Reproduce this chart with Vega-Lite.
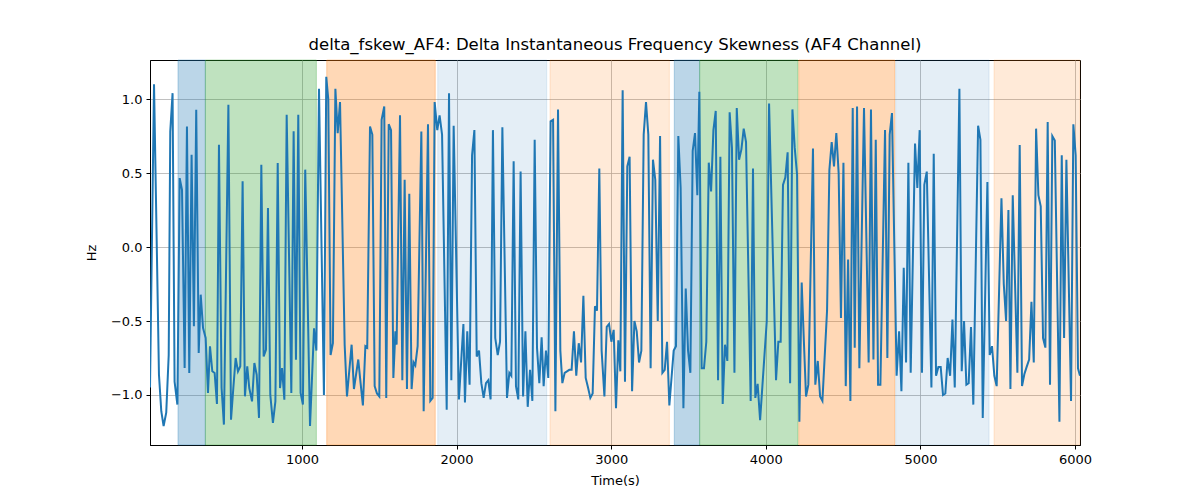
{
  "$schema": "https://vega.github.io/schema/vega-lite/v6.json",
  "autosize": {"type": "none"},
  "width": 930,
  "height": 385,
  "padding": {"left": 150, "top": 60, "right": 120, "bottom": 55},
  "title": {"text": "delta_fskew_AF4: Delta Instantaneous Frequency Skewness (AF4 Channel)", "font": "DejaVu Sans", "fontSize": 16.5, "fontWeight": "normal", "color": "black", "offset": 6},
  "config": {
    "view": {"stroke": "black", "strokeWidth": 1},
    "axis": {"labelFont": "DejaVu Sans", "titleFont": "DejaVu Sans", "labelFontSize": 13, "titleFontSize": 13, "titleFontWeight": "normal", "labelColor": "black", "titleColor": "black", "domainColor": "black", "tickColor": "black", "tickSize": 4, "labelPadding": 4, "gridColor": "#b0b0b0", "gridWidth": 0.8, "grid": true}
  },
  "datasets": {
    "bands": [
      {"start": 198, "end": 375, "kind": "A"},
      {"start": 375, "end": 1093, "kind": "B"},
      {"start": 1160, "end": 1862, "kind": "C"},
      {"start": 1878, "end": 2583, "kind": "D"},
      {"start": 2604, "end": 3376, "kind": "E"},
      {"start": 3408, "end": 3572, "kind": "A"},
      {"start": 3572, "end": 4208, "kind": "B"},
      {"start": 4213, "end": 4834, "kind": "C"},
      {"start": 4840, "end": 5444, "kind": "D"},
      {"start": 5476, "end": 6032, "kind": "E"}
    ],
    "series": [
      {"t": 17, "v": -0.95}, {"t": 43, "v": 1.10}, {"t": 75, "v": -0.863}, {"t": 90, "v": -1.11}, {"t": 105, "v": -1.21}, {"t": 122, "v": -1.12}, {"t": 138, "v": -0.73}, {"t": 148, "v": 0.78}, {"t": 163, "v": 1.04}, {"t": 176, "v": -0.91}, {"t": 194, "v": -1.065}, {"t": 209, "v": 0.466}, {"t": 224, "v": 0.387}, {"t": 241, "v": -0.818}, {"t": 256, "v": 0.815}, {"t": 271, "v": -0.851}, {"t": 286, "v": 0.624}, {"t": 301, "v": -0.536}, {"t": 316, "v": 0.928}, {"t": 332, "v": -0.716}, {"t": 345, "v": -0.322}, {"t": 360, "v": -0.547}, {"t": 377, "v": -0.615}, {"t": 392, "v": -0.986}, {"t": 405, "v": -0.671}, {"t": 420, "v": -0.84}, {"t": 435, "v": -0.851}, {"t": 450, "v": -1.061}, {"t": 463, "v": 0.691}, {"t": 480, "v": -0.953}, {"t": 495, "v": -1.2}, {"t": 524, "v": 0.962},
      {"t": 541, "v": -1.167}, {"t": 556, "v": -0.953}, {"t": 571, "v": -0.75}, {"t": 586, "v": -0.84}, {"t": 601, "v": -0.806}, {"t": 616, "v": 0.444}, {"t": 631, "v": -1.009}, {"t": 646, "v": -0.806}, {"t": 659, "v": -0.953}, {"t": 677, "v": -1.043}, {"t": 692, "v": -0.784}, {"t": 707, "v": -0.863}, {"t": 722, "v": -1.155}, {"t": 737, "v": 0.556}, {"t": 752, "v": -0.739}, {"t": 767, "v": -0.694}, {"t": 780, "v": 0.264}, {"t": 795, "v": -0.998}, {"t": 812, "v": -1.189}, {"t": 828, "v": -1.043}, {"t": 843, "v": 0.568}, {"t": 858, "v": -0.953}, {"t": 871, "v": -0.818}, {"t": 886, "v": -1.032}, {"t": 901, "v": 0.894}, {"t": 931, "v": -0.986}, {"t": 946, "v": 0.782}, {"t": 961, "v": -0.761}, {"t": 976, "v": 0.894}, {"t": 991, "v": -0.986}, {"t": 1006, "v": -1.065}, {"t": 1021, "v": 0.523},
      {"t": 1052, "v": -1.21}, {"t": 1078, "v": -0.55}, {"t": 1093, "v": -0.70}, {"t": 1110, "v": 1.07}, {"t": 1142, "v": -1.0}, {"t": 1157, "v": 1.15}, {"t": 1170, "v": 1.0}, {"t": 1185, "v": -0.73}, {"t": 1200, "v": -0.65}, {"t": 1216, "v": 1.07}, {"t": 1231, "v": 0.77}, {"t": 1246, "v": 0.98}, {"t": 1276, "v": -0.66}, {"t": 1291, "v": -1.01}, {"t": 1321, "v": -0.66}, {"t": 1336, "v": -0.96}, {"t": 1364, "v": -0.76}, {"t": 1379, "v": -0.92}, {"t": 1394, "v": -1.07}, {"t": 1410, "v": -0.67}, {"t": 1422, "v": -0.68}, {"t": 1440, "v": 0.815}, {"t": 1455, "v": 0.76}, {"t": 1470, "v": -0.94}, {"t": 1485, "v": -0.99}, {"t": 1500, "v": -1.01}, {"t": 1515, "v": 0.86}, {"t": 1532, "v": 0.95},
      {"t": 1545, "v": -1.02}, {"t": 1561, "v": 0.83}, {"t": 1576, "v": 0.79}, {"t": 1591, "v": -0.885}, {"t": 1604, "v": -0.57}, {"t": 1612, "v": -0.66}, {"t": 1634, "v": 0.89}, {"t": 1649, "v": -0.90}, {"t": 1664, "v": 0.455}, {"t": 1679, "v": -0.96}, {"t": 1694, "v": 0.36}, {"t": 1709, "v": -0.96}, {"t": 1722, "v": -0.78}, {"t": 1733, "v": -0.80}, {"t": 1748, "v": -0.67}, {"t": 1772, "v": 0.78}, {"t": 1787, "v": -1.11}, {"t": 1815, "v": 0.83}, {"t": 1830, "v": -1.04}, {"t": 1845, "v": -1.02}, {"t": 1858, "v": 0.98}, {"t": 1875, "v": 0.79}, {"t": 1890, "v": 0.89}, {"t": 1906, "v": 0.76}, {"t": 1936, "v": -1.10}, {"t": 1951, "v": 1.04}, {"t": 1966, "v": -0.90}, {"t": 1981, "v": 0.82}, {"t": 2015, "v": -1.03},
      {"t": 2044, "v": -0.52}, {"t": 2054, "v": -1.05}, {"t": 2069, "v": -0.57}, {"t": 2084, "v": -0.93}, {"t": 2100, "v": 0.62}, {"t": 2115, "v": 0.79}, {"t": 2130, "v": -0.74}, {"t": 2145, "v": -0.70}, {"t": 2160, "v": -0.92}, {"t": 2175, "v": -1.02}, {"t": 2190, "v": -0.92}, {"t": 2205, "v": -0.90}, {"t": 2220, "v": -1.03}, {"t": 2235, "v": 0.79}, {"t": 2250, "v": -0.615}, {"t": 2266, "v": -0.73}, {"t": 2281, "v": -0.64}, {"t": 2296, "v": 0.81}, {"t": 2326, "v": -1.02}, {"t": 2341, "v": -0.85}, {"t": 2354, "v": -0.87}, {"t": 2369, "v": 0.58}, {"t": 2384, "v": -0.94}, {"t": 2399, "v": -1.03}, {"t": 2414, "v": 0.51}, {"t": 2430, "v": -1.01}, {"t": 2445, "v": -0.57}, {"t": 2460, "v": -1.08}, {"t": 2475, "v": -0.83}, {"t": 2490, "v": -1.04}, {"t": 2505, "v": 0.725}, {"t": 2520, "v": -0.68}, {"t": 2535, "v": -0.92}, {"t": 2550, "v": -0.61},
      {"t": 2563, "v": -0.94}, {"t": 2578, "v": -0.70}, {"t": 2593, "v": -0.885}, {"t": 2608, "v": 0.85}, {"t": 2624, "v": 0.86}, {"t": 2639, "v": -1.11}, {"t": 2656, "v": 0.93}, {"t": 2671, "v": -0.70}, {"t": 2684, "v": -0.92}, {"t": 2699, "v": -0.85}, {"t": 2714, "v": -0.84}, {"t": 2729, "v": -0.83}, {"t": 2744, "v": -0.83}, {"t": 2759, "v": -0.57}, {"t": 2774, "v": -0.87}, {"t": 2790, "v": -0.65}, {"t": 2805, "v": -0.78}, {"t": 2820, "v": -0.33}, {"t": 2835, "v": -0.885}, {"t": 2850, "v": -0.95}, {"t": 2865, "v": -1.02}, {"t": 2880, "v": -0.99}, {"t": 2895, "v": -0.40}, {"t": 2908, "v": -0.43}, {"t": 2923, "v": 0.53}, {"t": 2938, "v": -0.70}, {"t": 2956, "v": -1.01}, {"t": 2971, "v": -0.54}, {"t": 2986, "v": -0.52}, {"t": 3001, "v": -0.64}, {"t": 3016, "v": -0.56}, {"t": 3031, "v": -1.09}, {"t": 3046, "v": -0.63},
      {"t": 3059, "v": -0.84}, {"t": 3074, "v": 1.06}, {"t": 3089, "v": -0.91}, {"t": 3104, "v": 0.545}, {"t": 3119, "v": 0.61}, {"t": 3135, "v": -0.975}, {"t": 3150, "v": -0.50}, {"t": 3165, "v": -0.57}, {"t": 3180, "v": -0.78}, {"t": 3195, "v": -0.70}, {"t": 3210, "v": 0.76}, {"t": 3225, "v": 0.98}, {"t": 3240, "v": 0.76}, {"t": 3255, "v": -0.82}, {"t": 3270, "v": 0.59}, {"t": 3285, "v": 0.455}, {"t": 3301, "v": -0.50}, {"t": 3316, "v": 0.75}, {"t": 3331, "v": -0.85}, {"t": 3346, "v": -0.83}, {"t": 3361, "v": -0.64}, {"t": 3376, "v": -1.07}, {"t": 3404, "v": -0.70}, {"t": 3419, "v": -0.67}, {"t": 3434, "v": 0.75}, {"t": 3449, "v": 0.40}, {"t": 3467, "v": -1.09}, {"t": 3482, "v": -0.28}, {"t": 3497, "v": -0.70}, {"t": 3512, "v": -0.85}, {"t": 3527, "v": 0.65}, {"t": 3542, "v": 0.77}, {"t": 3557, "v": 0.35},
      {"t": 3570, "v": 1.05}, {"t": 3585, "v": -0.82}, {"t": 3600, "v": -0.82}, {"t": 3615, "v": -0.64}, {"t": 3631, "v": 0.57}, {"t": 3646, "v": 0.376}, {"t": 3661, "v": 0.79}, {"t": 3676, "v": 0.92}, {"t": 3691, "v": -0.90}, {"t": 3706, "v": 0.61}, {"t": 3721, "v": -1.06}, {"t": 3736, "v": -0.66}, {"t": 3751, "v": -0.77}, {"t": 3766, "v": 0.91}, {"t": 3781, "v": 0.67}, {"t": 3797, "v": -0.85}, {"t": 3812, "v": 0.94}, {"t": 3827, "v": 0.59}, {"t": 3842, "v": 0.66}, {"t": 3857, "v": 0.80}, {"t": 3872, "v": 0.71}, {"t": 3902, "v": -1.04}, {"t": 3917, "v": 0.53}, {"t": 3932, "v": -1.02}, {"t": 3947, "v": -0.925}, {"t": 3963, "v": -1.17}, {"t": 4006, "v": -0.50}, {"t": 4021, "v": 0.97}, {"t": 4066, "v": -0.90},
      {"t": 4081, "v": -0.64}, {"t": 4096, "v": -0.64}, {"t": 4111, "v": 0.42}, {"t": 4126, "v": 0.47}, {"t": 4141, "v": 0.64}, {"t": 4157, "v": -0.92}, {"t": 4172, "v": 0.93}, {"t": 4187, "v": 0.67}, {"t": 4202, "v": 0.49}, {"t": 4217, "v": -1.18}, {"t": 4232, "v": -0.24}, {"t": 4247, "v": -0.66}, {"t": 4260, "v": -1.01}, {"t": 4275, "v": -0.93}, {"t": 4305, "v": 0.665}, {"t": 4320, "v": -0.93}, {"t": 4336, "v": -0.77}, {"t": 4351, "v": -1.01}, {"t": 4366, "v": -1.04}, {"t": 4396, "v": -0.43}, {"t": 4411, "v": 0.52}, {"t": 4426, "v": 0.71}, {"t": 4441, "v": 0.545}, {"t": 4456, "v": 0.77}, {"t": 4471, "v": 0.50}, {"t": 4486, "v": -0.48}, {"t": 4502, "v": 0.57}, {"t": 4517, "v": -0.94}, {"t": 4532, "v": -0.085}, {"t": 4547, "v": -1.04}, {"t": 4562, "v": 0.94},
      {"t": 4575, "v": -0.68}, {"t": 4590, "v": 0.95}, {"t": 4605, "v": -0.82}, {"t": 4635, "v": 0.94}, {"t": 4665, "v": -0.78}, {"t": 4680, "v": 0.93}, {"t": 4696, "v": -0.76}, {"t": 4711, "v": 0.725}, {"t": 4726, "v": -0.93}, {"t": 4741, "v": -0.93}, {"t": 4771, "v": 0.79}, {"t": 4786, "v": -0.75}, {"t": 4801, "v": 0.76}, {"t": 4816, "v": 0.905}, {"t": 4846, "v": -0.87}, {"t": 4862, "v": -0.57}, {"t": 4877, "v": -0.975}, {"t": 4892, "v": -0.14}, {"t": 4907, "v": -0.78}, {"t": 4922, "v": 0.57}, {"t": 4937, "v": -0.85}, {"t": 4965, "v": 0.70}, {"t": 4980, "v": 0.40}, {"t": 4995, "v": 0.79}, {"t": 5010, "v": -0.85}, {"t": 5025, "v": 0.42}, {"t": 5041, "v": 0.51}, {"t": 5071, "v": -0.95},
      {"t": 5086, "v": 0.63}, {"t": 5101, "v": -0.87}, {"t": 5116, "v": -0.81}, {"t": 5131, "v": -0.81}, {"t": 5146, "v": -1.0}, {"t": 5161, "v": -0.99}, {"t": 5176, "v": -0.75}, {"t": 5192, "v": -0.87}, {"t": 5207, "v": -0.49}, {"t": 5222, "v": -0.95}, {"t": 5252, "v": 1.07}, {"t": 5267, "v": -0.84}, {"t": 5282, "v": -0.50}, {"t": 5297, "v": -0.93}, {"t": 5312, "v": -0.92}, {"t": 5327, "v": -0.54}, {"t": 5342, "v": -1.065}, {"t": 5373, "v": 0.82}, {"t": 5388, "v": 0.725}, {"t": 5403, "v": -1.155}, {"t": 5433, "v": 0.44}, {"t": 5448, "v": -0.73}, {"t": 5463, "v": -0.67}, {"t": 5478, "v": -0.87}, {"t": 5493, "v": -0.94}, {"t": 5524, "v": 0.33}, {"t": 5539, "v": -0.25}, {"t": 5554, "v": -0.50}, {"t": 5569, "v": 0.25},
      {"t": 5582, "v": -0.96}, {"t": 5597, "v": 0.35}, {"t": 5627, "v": -0.85}, {"t": 5642, "v": 0.69}, {"t": 5657, "v": -0.94}, {"t": 5672, "v": -0.86}, {"t": 5687, "v": -0.81}, {"t": 5703, "v": -0.76}, {"t": 5718, "v": -0.37}, {"t": 5733, "v": -0.78}, {"t": 5748, "v": 0.80}, {"t": 5763, "v": 0.35}, {"t": 5778, "v": 0.275}, {"t": 5793, "v": -0.615}, {"t": 5808, "v": -0.68}, {"t": 5823, "v": 0.845}, {"t": 5838, "v": -0.93}, {"t": 5853, "v": 0.75}, {"t": 5869, "v": 0.72}, {"t": 5899, "v": -1.18}, {"t": 5914, "v": 0.62}, {"t": 5929, "v": -0.615}, {"t": 5944, "v": 0.59}, {"t": 5974, "v": -1.04}, {"t": 5989, "v": 0.83}, {"t": 6004, "v": 0.62}, {"t": 6019, "v": -0.82}, {"t": 6032, "v": -0.87}
    ]
  },
  "layer": [
    {
      "data": {"name": "bands"},
      "mark": {"type": "rect", "strokeWidth": 1},
      "encoding": {
        "x": {"field": "start", "type": "quantitative", "scale": {"domain": [17, 6032], "nice": false, "zero": false}, "axis": {"title": "Time(s)", "values": [1000, 2000, 3000, 4000, 5000, 6000], "format": "d", "titlePadding": 8}},
        "x2": {"field": "end"},
        "color": {"field": "kind", "type": "nominal", "scale": {"domain": ["A", "B", "C", "D", "E"], "range": ["rgba(31,119,180,0.3)", "rgba(44,160,44,0.3)", "rgba(255,127,14,0.3)", "rgba(31,119,180,0.12)", "rgba(255,127,14,0.16)"]}, "legend": null},
        "stroke": {"field": "kind", "type": "nominal", "scale": {"domain": ["A", "B", "C", "D", "E"], "range": ["rgba(31,119,180,0.3)", "rgba(44,160,44,0.3)", "rgba(255,127,14,0.3)", "rgba(31,119,180,0.12)", "rgba(255,127,14,0.16)"]}, "legend": null}
      }
    },
    {
      "data": {"name": "series"},
      "mark": {"type": "line", "color": "#1f77b4", "strokeWidth": 2, "clip": true},
      "encoding": {
        "x": {"field": "t", "type": "quantitative"},
        "y": {"field": "v", "type": "quantitative", "scale": {"domain": [-1.338, 1.264], "nice": false, "zero": false}, "axis": {"title": "Hz", "values": [-1, -0.5, 0, 0.5, 1], "format": ".1f", "titlePadding": 12}}
      }
    }
  ]
}
